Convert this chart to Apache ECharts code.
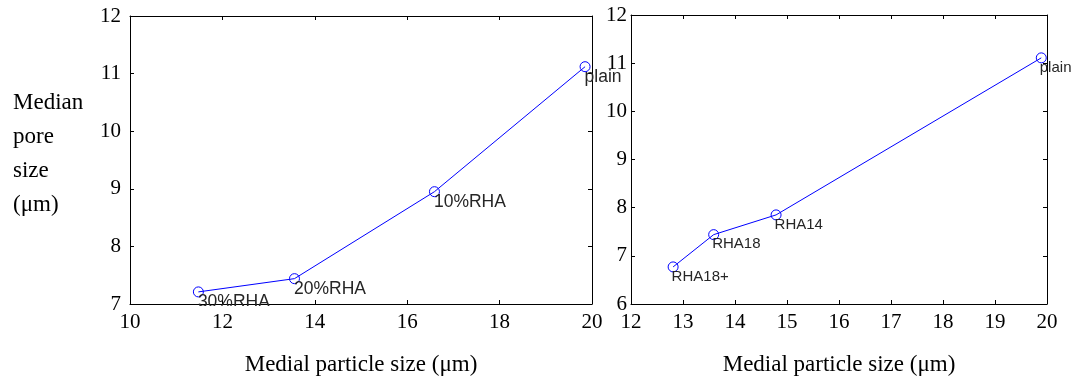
<!DOCTYPE html>
<html>
<head>
<meta charset="utf-8">
<script src="https://cdn.jsdelivr.net/npm/echarts@6/dist/echarts.min.js"></script>
<style>
html,body{margin:0;padding:0;background:#fff;}
#chart{width:1083px;height:381px;}
</style>
</head>
<body>
<div id="chart"></div>
<script>
// Left panel data
const leftX = [11.48, 13.56, 16.59, 19.85];
const leftY = [7.21, 7.44, 8.95, 11.12];
const leftLabels = ['30%RHA', '20%RHA', '10%RHA', 'plain'];
// Right panel data
const rightX = [12.81, 13.59, 14.79, 19.89];
const rightY = [6.77, 7.44, 7.85, 11.11];
const rightLabels = ['RHA18+', 'RHA18', 'RHA14', 'plain'];

const xTitle = 'Medial particle size (μm)';
const yTitle = 'Median\npore\nsize\n(μm)';

const serif = "'Liberation Serif', 'DejaVu Serif', serif";
const sans = "'Liberation Sans', Arial, sans-serif";

function pts(xs, ys, names) {
  return xs.map((x, i) => ({ value: [x, ys[i]], name: names[i] }));
}

const lineStyleAxis = { show: true, lineStyle: { color: '#000', width: 1 } };
const tickIn = { show: true, inside: true, length: 4, lineStyle: { color: '#000' } };
const tickLabel = { color: '#000', fontFamily: serif, fontSize: 21 };

function xAxes(grid, min, max, interval, name) {
  return [
    { type: 'value', gridIndex: grid, position: 'bottom', min, max, interval,
      axisLine: lineStyleAxis, axisTick: tickIn, splitLine: { show: false },
      axisLabel: Object.assign({ margin: 8 }, tickLabel),
      name, nameLocation: 'middle', nameGap: 49,
      nameTextStyle: { color: '#000', fontFamily: serif, fontSize: 23 } },
    { type: 'value', gridIndex: grid, position: 'top', min, max, interval,
      axisLine: lineStyleAxis, axisTick: tickIn, splitLine: { show: false },
      axisLabel: { show: false } }
  ];
}
function yAxes(grid, min, max, interval, margin) {
  return [
    { type: 'value', gridIndex: grid, position: 'left', min, max, interval,
      axisLine: lineStyleAxis, axisTick: tickIn, splitLine: { show: false },
      axisLabel: Object.assign({ margin }, tickLabel) },
    { type: 'value', gridIndex: grid, position: 'right', min, max, interval,
      axisLine: lineStyleAxis, axisTick: tickIn, splitLine: { show: false },
      axisLabel: { show: false } }
  ];
}

function series(xi, yi, data, fontSize, pos) {
  return {
    type: 'line', xAxisIndex: xi, yAxisIndex: yi, data,
    symbol: 'circle', symbolSize: 10, showAllSymbol: true,
    lineStyle: { color: '#0000ff', width: 1 },
    itemStyle: { color: 'rgba(0,0,0,0)', borderColor: '#0000ff', borderWidth: 1 },
    label: { show: true, formatter: '{b}', position: pos, align: 'left', verticalAlign: 'middle',
      color: '#262626', fontFamily: sans, fontSize },
    emphasis: { disabled: true },
    clip: false, animation: false, z: 2
  };
}

const chart = echarts.init(document.getElementById('chart'), null, { renderer: 'canvas' });
chart.setOption({
  animation: false,
  backgroundColor: '#fff',
  grid: [
    { left: 130, top: 16, width: 462, height: 289 },
    { left: 631, top: 15, width: 416, height: 292 }
  ],
  title: {
    text: yTitle, left: 8, top: 81,
    textStyle: { color: '#000', fontFamily: serif, fontSize: 23, fontWeight: 'normal', lineHeight: 34 }
  },
  xAxis: [].concat(xAxes(0, 10, 20, 2, xTitle), xAxes(1, 12, 20, 1, xTitle)),
  yAxis: [].concat(yAxes(0, 7, 12, 1, 9), yAxes(1, 6, 12, 1, 4)),
  series: [
    series(0, 0, pts(leftX, leftY, leftLabels), 17.5, [5, 16]),
    series(2, 2, pts(rightX, rightY, rightLabels), 15, [4, 15])
  ],
  graphic: [
    { type: 'rect', z: 100, shape: { x: 131, y: 306, width: 460, height: 8 },
      style: { fill: '#fff' }, silent: true }
  ]
});
</script>
</body>
</html>
